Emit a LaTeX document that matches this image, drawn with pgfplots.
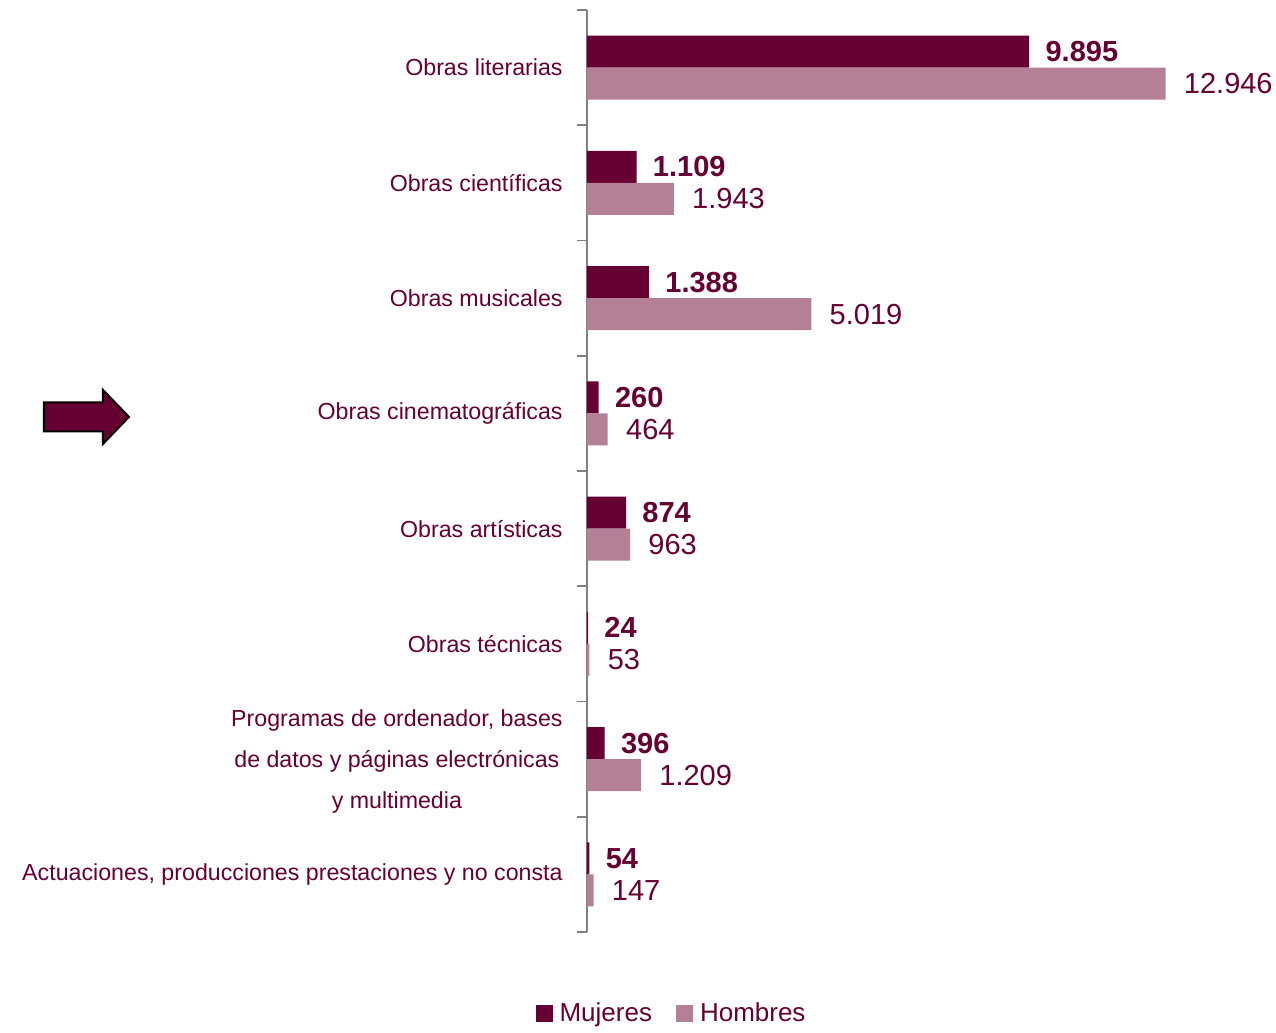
\documentclass[border=0pt]{standalone}
\usepackage{pgfplots}
\pgfplotsset{compat=1.18}
\usepackage{fontspec}
\setmainfont{Liberation Sans}
\definecolor{muj}{RGB}{102,0,51}
\definecolor{hom}{RGB}{179,128,150}
\definecolor{txt}{RGB}{102,0,51}

\begin{document}
\begin{tikzpicture}
\begin{axis}[
  scale only axis, width=324pt, height=461pt,
  xbar, bar width=16pt,
  xmin=0, xmax=14500,
  ymin=-0.5, ymax=7.5, y dir=reverse,
  axis y line*=left, axis x line=none,
  axis line style={gray, line width=0.9pt, -},
  ytick={0,...,7},
  yticklabels={Obras literarias, Obras científicas, Obras musicales,
    Obras cinematográficas, Obras artísticas, Obras técnicas,
    {\raisebox{0pt}[\dimexpr\height+3pt][\depth]{\begin{tabular}{@{}c@{}}Programas de ordenador, bases\\[6.5pt]de datos y páginas electrónicas\\[6.5pt]y multimedia\end{tabular}}},
    {Actuaciones, producciones prestaciones y no consta}},
  major tick length=0pt,
  minor ytick={-0.5,0.5,...,7.5},
  minor tick length=5pt,
  tick align=outside,
  every tick/.style={gray, line width=0.9pt},
  yticklabel style={inner sep=0pt, xshift=-12pt, text=txt, align=right,
    font=\fontsize{11.6}{14}\selectfont},
  /pgf/number format/.cd, 1000 sep={.}, assume math mode=true, /pgfplots/.cd,
  nodes near coords,
  clip=false,
  legend style={at={(axis description cs:0.132,-0.0885)}, anchor=center,
    draw=none, legend columns=2, text=txt,
    font=\fontsize{13}{15}\selectfont,
    /tikz/every even column/.append style={column sep=10pt}},
  legend image code/.code={\fill[#1] (0pt,-4.25pt) rectangle (8.5pt,4.25pt);
    \path (0pt,0pt) -- (10pt,0pt);},
]
\addplot[fill=muj, draw=none, bar shift=8pt,
  every node near coord/.append style={anchor=west, inner sep=0pt, xshift=8pt,
    text=txt, font=\bfseries\fontsize{14.5}{16}\selectfont}]
  coordinates {(9895,0)(1109,1)(1388,2)(260,3)(874,4)(24,5)(396,6)(54,7)};
\addplot[fill=hom, draw=none, bar shift=-8pt,
  every node near coord/.append style={anchor=west, inner sep=0pt, xshift=9pt,
    text=txt, font=\fontsize{14.5}{16}\selectfont}]
  coordinates {(12946,0)(1943,1)(5019,2)(464,3)(963,4)(53,5)(1209,6)(147,7)};
\legend{Mujeres, Hombres}
\draw[black, line width=1pt, fill=muj] (axis description cs:-0.838,0.5586)
  ++(0pt,7.25pt) -- ++(29.5pt,0pt) -- ++(0pt,6.25pt) -- ++(13pt,-13.5pt)
  -- ++(-13pt,-13.5pt) -- ++(0pt,6.25pt) -- ++(-29.5pt,0pt) -- cycle;
\path (axis description cs:-0.9059,1.0108) rectangle (axis description cs:1.0633,-0.0998);
\end{axis}
\end{tikzpicture}
\end{document}
